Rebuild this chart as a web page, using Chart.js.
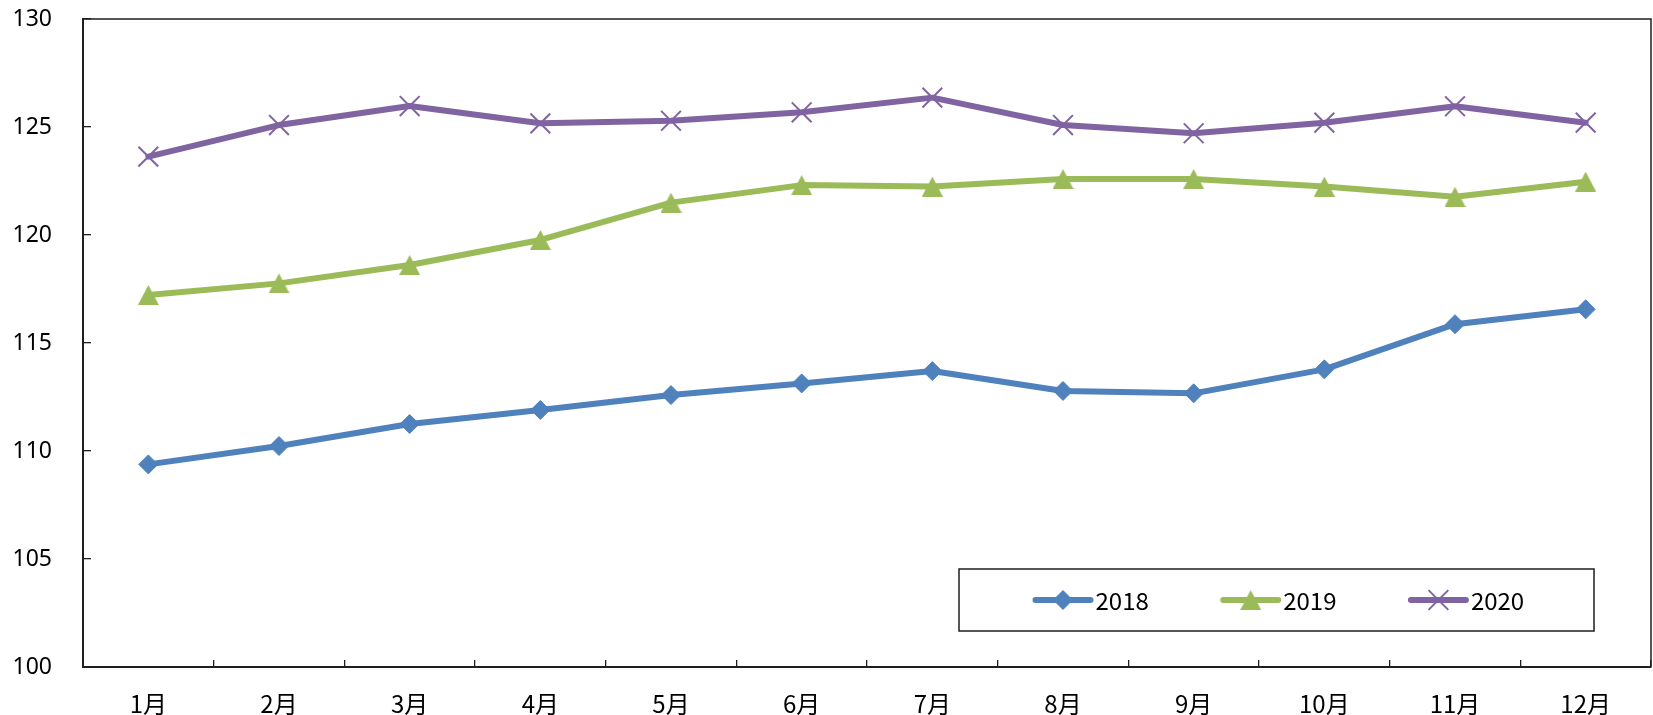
<!DOCTYPE html>
<html>
<head>
<meta charset="utf-8">
<script src="https://cdn.jsdelivr.net/npm/chart.js@4/dist/chart.umd.min.js"></script>
<style>
  html, body { margin: 0; padding: 0; background: #fff; }
  canvas { display: block; }
</style>
</head>
<body>
<canvas id="chart" width="1653" height="715"></canvas>
<script>
// Monthly index, three years
const months = ['1月', '2月', '3月', '4月', '5月', '6月', '7月', '8月', '9月', '10月', '11月', '12月'];
const seriesNames = ['2018', '2019', '2020'];
const y2018 = [109.38, 110.23, 111.25, 111.90, 112.59, 113.13, 113.70, 112.78, 112.67, 113.78, 115.87, 116.56];
const y2019 = [117.22, 117.76, 118.61, 119.77, 121.50, 122.31, 122.24, 122.59, 122.59, 122.24, 121.77, 122.47];
const y2020 = [123.63, 125.09, 125.97, 125.17, 125.29, 125.68, 126.36, 125.09, 124.71, 125.20, 125.96, 125.20];
const yTicks = [100, 105, 110, 115, 120, 125, 130];

const BLUE = '#4F81BD';
const GREEN = '#9BBB59';
const PURPLE = '#8064A2';
const AXIS = '#1f1f1f';

// Filled triangle marker, centred on its bounding box
function makeTriangle(w, h, color) {
  const c = document.createElement('canvas');
  c.width = w; c.height = h;
  const g = c.getContext('2d');
  g.fillStyle = color;
  g.beginPath();
  g.moveTo(w / 2, 0);
  g.lineTo(w, h);
  g.lineTo(0, h);
  g.closePath();
  g.fill();
  return c;
}
const triangleMarker = makeTriangle(21, 20, GREEN);

// Plot frame on the top and right sides
const framePlugin = {
  id: 'frame',
  afterDraw(chart) {
    const { ctx, chartArea: a } = chart;
    ctx.save();
    ctx.strokeStyle = AXIS;
    ctx.lineWidth = 1.5;
    ctx.beginPath();
    ctx.moveTo(a.left, a.top);
    ctx.lineTo(a.right, a.top);
    ctx.lineTo(a.right, a.bottom);
    ctx.stroke();
    ctx.restore();
  }
};

// Boxed legend inside the lower right of the plot
const boxLegendPlugin = {
  id: 'boxLegend',
  afterDraw(chart) {
    const { ctx, chartArea: a } = chart;
    const w = 635, h = 62;
    const x0 = a.right - 57 - w;
    const y0 = a.bottom - 36 - h;
    ctx.save();
    ctx.fillStyle = '#fff';
    ctx.fillRect(x0, y0, w, h);
    ctx.strokeStyle = AXIS;
    ctx.lineWidth = 1.5;
    ctx.strokeRect(x0, y0, w, h);
    const cy = y0 + h / 2;
    chart.data.datasets.forEach((ds, i) => {
      const lx = x0 + 76.5 + i * 187.7;
      const len = 55;
      ctx.strokeStyle = ds.borderColor;
      ctx.lineWidth = ds.borderWidth;
      ctx.lineCap = 'round';
      ctx.beginPath();
      ctx.moveTo(lx, cy);
      ctx.lineTo(lx + len, cy);
      ctx.stroke();
      ctx.lineCap = 'butt';
      ctx.fillStyle = ds.pointBackgroundColor;
      ctx.strokeStyle = ds.pointBorderColor;
      ctx.lineWidth = ds.pointBorderWidth;
      Chart.helpers.drawPoint(ctx, {
        pointStyle: ds.pointStyle,
        radius: ds.pointRadius,
        borderWidth: ds.pointBorderWidth,
        rotation: 0
      }, lx + len / 2, cy);
      ctx.fillStyle = '#000';
      ctx.font = "24px 'Noto Sans CJK SC', sans-serif";
      ctx.textAlign = 'left';
      ctx.textBaseline = 'middle';
      ctx.fillText(ds.label, lx + len + 5, cy + 1);
    });
    ctx.restore();
  }
};

new Chart(document.getElementById('chart'), {
  type: 'line',
  data: {
    labels: months,
    datasets: [
      {
        label: seriesNames[0],
        data: y2018,
        borderColor: BLUE,
        backgroundColor: BLUE,
        borderWidth: 6,
        pointStyle: 'rectRot',
        pointRadius: 9.5,
        pointBackgroundColor: BLUE,
        pointBorderColor: BLUE,
        pointBorderWidth: 1
      },
      {
        label: seriesNames[1],
        data: y2019,
        borderColor: GREEN,
        backgroundColor: GREEN,
        borderWidth: 6,
        pointStyle: triangleMarker,
        pointRadius: 10,
        pointBackgroundColor: GREEN,
        pointBorderColor: GREEN,
        pointBorderWidth: 1
      },
      {
        label: seriesNames[2],
        data: y2020,
        borderColor: PURPLE,
        backgroundColor: PURPLE,
        borderWidth: 6,
        pointStyle: 'crossRot',
        pointRadius: 14,
        pointBackgroundColor: PURPLE,
        pointBorderColor: PURPLE,
        pointBorderWidth: 2
      }
    ]
  },
  options: {
    responsive: false,
    animation: false,
    events: [],
    layout: { autoPadding: false, padding: { top: 19, right: 2, left: 0, bottom: 0 } },
    elements: {
      line: { tension: 0, borderJoinStyle: 'round', borderCapStyle: 'round' }
    },
    plugins: {
      legend: { display: false },
      tooltip: { enabled: false }
    },
    scales: {
      x: {
        type: 'category',
        offset: true,
        afterFit(scale) {
          scale.height = 48;
          scale.paddingLeft = 0;
          scale.paddingRight = 0;
        },
        grid: {
          offset: true,
          drawOnChartArea: false,
          drawTicks: true,
          tickLength: -7,
          color: AXIS,
          lineWidth: 1.3
        },
        border: { display: true, color: AXIS, width: 2 },
        ticks: {
          color: '#000',
          padding: 29,
          maxRotation: 0,
          autoSkip: false,
          font: { family: "'Noto Sans CJK SC', sans-serif", size: 24 }
        }
      },
      y: {
        min: 100,
        max: 130,
        afterFit(scale) {
          scale.width = 83;
          scale.paddingTop = 0;
          scale.paddingBottom = 0;
        },
        afterBuildTicks(scale) { scale.ticks = yTicks.map(v => ({ value: v })); },
        grid: {
          drawOnChartArea: false,
          drawTicks: true,
          tickLength: -8,
          color: AXIS,
          lineWidth: 1.3
        },
        border: { display: true, color: AXIS, width: 2 },
        ticks: {
          color: '#000',
          padding: 39,
          font: { family: "'Noto Sans', sans-serif", size: 23 }
        }
      }
    }
  },
  plugins: [framePlugin, boxLegendPlugin]
});
</script>
</body>
</html>
